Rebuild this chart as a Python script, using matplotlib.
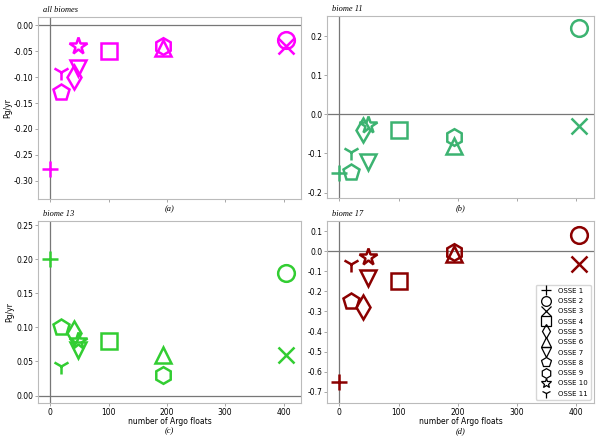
import matplotlib.pyplot as plt
from matplotlib.lines import Line2D

# number of Argo floats per OSSE
floats = [0, 404, 404, 100, 40, 194, 48, 19, 194, 48, 19]
osse_labels = ['OSSE %d' % i for i in range(1, 12)]
markers = ['+', 'o', 'x', 's', 'd', '^', 'v', 'p', 'h', '*', '1']

# flux differences (Pg/yr) per panel
all_biomes = [-0.278, -0.029, -0.040, -0.050, -0.100, -0.043, -0.083, -0.128, -0.040, -0.040, -0.090]
biome11 = [-0.150, 0.220, -0.030, -0.040, -0.040, -0.080, -0.123, -0.148, -0.058, -0.028, -0.097]
biome13 = [0.200, 0.180, 0.060, 0.080, 0.092, 0.059, 0.067, 0.100, 0.030, 0.080, 0.044]
biome17 = [-0.652, 0.078, -0.063, -0.147, -0.280, -0.013, -0.135, -0.247, -0.002, -0.030, -0.063]

panels = [
    (all_biomes, 'all biomes', '(a)', '#ff00ff', (-0.335, 0.016), [-0.30, -0.25, -0.20, -0.15, -0.10, -0.05, 0.00], '%.2f'),
    (biome11, 'biome 11', '(b)', '#3cb371', (-0.214, 0.252), [-0.2, -0.1, 0.0, 0.1, 0.2], '%.1f'),
    (biome13, 'biome 13', '(c)', '#32cd32', (-0.011, 0.256), [0.00, 0.05, 0.10, 0.15, 0.20, 0.25], '%.2f'),
    (biome17, 'biome 17', '(d)', '#8b0000', (-0.755, 0.15), [-0.7, -0.6, -0.5, -0.4, -0.3, -0.2, -0.1, 0.0, 0.1], '%.1f'),
]

fig = plt.figure(figsize=(6, 4.36), dpi=100)
W, H = 600, 436
boxes = [(38, 17, 301, 199), (327, 16, 594, 198), (38, 221, 301, 403), (327, 221, 594, 403)]

serif = 'Liberation Serif'
for i, (vals, title, tag, color, ylim, yticks, fmt) in enumerate(panels):
    l, t, r, b = boxes[i]
    ax = fig.add_axes([l / W, 1 - b / H, (r - l) / W, (b - t) / H])
    ax.axhline(0, color='#777777', lw=0.9, zorder=1)
    ax.axvline(0, color='#777777', lw=0.9, zorder=1)
    for x, y, m in zip(floats, vals, markers):
        ms = 13 if m == '*' else 12
        ax.plot(x, y, marker=m, linestyle='none', markersize=ms,
                markerfacecolor='none', markeredgecolor=color, markeredgewidth=1.8, zorder=3)
    ax.set_xlim(-21, 430)
    ax.set_ylim(*ylim)
    ax.set_xticks([0, 100, 200, 300, 400])
    ax.set_yticks(yticks)
    ax.set_yticklabels([fmt % v for v in yticks])
    ax.tick_params(labelsize=5.5, length=2.5, width=0.6, color='#999999', pad=1)
    for s in ax.spines.values():
        s.set_color('#bbbbbb')
        s.set_linewidth(0.8)
    ax.text(0.02, 1.015, title, transform=ax.transAxes, family=serif, style='italic',
            fontsize=6, ha='left', va='bottom')
    if i < 2:
        ax.set_xticklabels([])
        ax.text(0.5, -0.035, tag, transform=ax.transAxes, family=serif, style='italic',
                fontsize=6, ha='center', va='top')
    else:
        ax.set_xlabel('number of Argo floats', fontsize=5.5, labelpad=0)
        ax.text(0.5, -0.135, tag, transform=ax.transAxes, family=serif, style='italic',
                fontsize=6, ha='center', va='top')
    if i % 2 == 0:
        ax.set_ylabel('Pg/yr', fontsize=5.5, labelpad=1)
    if i == 3:
        handles = [Line2D([], [], marker=m, linestyle='none', markersize=7,
                          markerfacecolor='none', markeredgecolor='black', markeredgewidth=0.9)
                   for m in markers]
        ax.legend(handles, osse_labels, loc='lower right', fontsize=5, labelspacing=0.62,
                  handletextpad=0.8, borderpad=0.4, frameon=True)

fig.savefig('out.png', dpi=100)
